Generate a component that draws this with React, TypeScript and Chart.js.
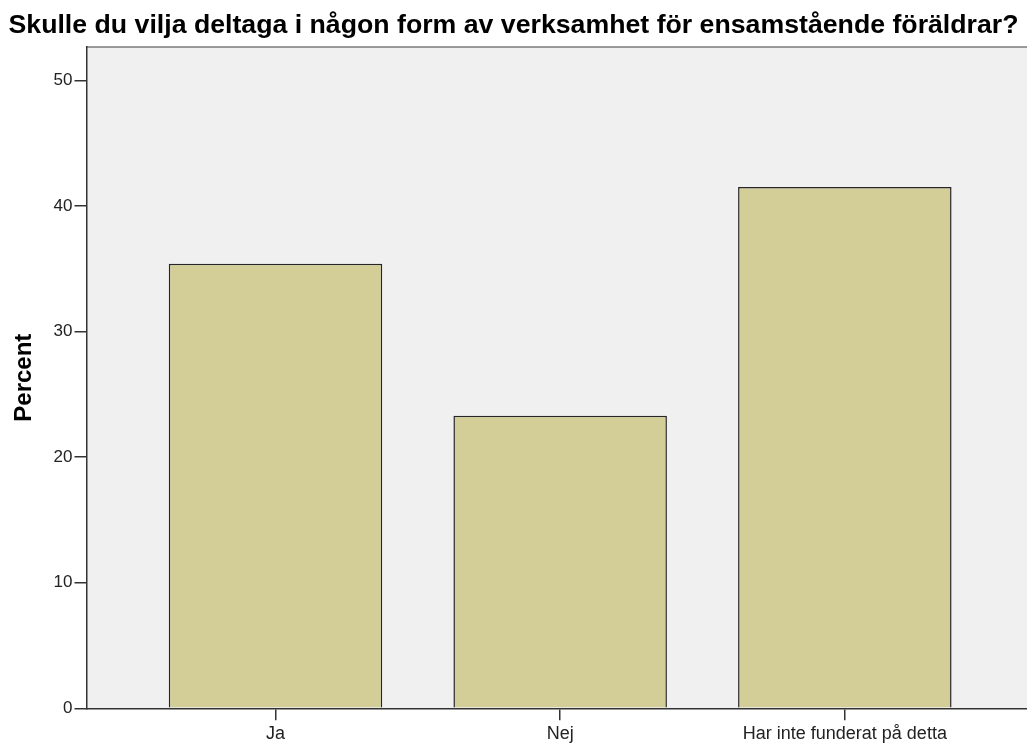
import React, { useEffect, useRef } from "react";
import { Chart, registerables } from "chart.js";

Chart.register(...registerables);

const titleText = "Skulle du vilja deltaga i någon form av verksamhet för ensamstående föräldrar?";
const categories = ["Ja", "Nej", "Har inte funderat på detta"];
const percentValues = [35.4, 23.3, 41.5];
const yTickValues = [0, 10, 20, 30, 40, 50];
const yAxisTitle = "Percent";

const FONT = "'Liberation Sans', Arial, Helvetica, sans-serif";

const plotBackground = {
  id: "plotBackground",
  beforeDraw(chart: any) {
    const { ctx, chartArea } = chart;
    ctx.save();
    ctx.fillStyle = "#f0f0f0";
    ctx.fillRect(chartArea.left, chartArea.top, chartArea.right - chartArea.left, chartArea.bottom - chartArea.top);
    ctx.strokeStyle = "#7a7a7a";
    ctx.lineWidth = 1.5;
    ctx.beginPath();
    ctx.moveTo(chartArea.left, chartArea.top);
    ctx.lineTo(chartArea.right, chartArea.top);
    ctx.stroke();
    ctx.restore();
  },
};

export default function App() {
  const ref = useRef<HTMLCanvasElement | null>(null);

  useEffect(() => {
    if (!ref.current) return;
    const chart = new Chart(ref.current, {
      type: "bar",
      data: {
        datasets: [
          {
            data: categories.map((c, i) => ({ x: i, y: percentValues[i] })),
            backgroundColor: "#d3ce98",
            borderColor: "#262626",
            borderWidth: 1.5,
            barPercentage: 0.75,
            categoryPercentage: 1,
          },
        ],
      },
      options: {
        animation: false,
        responsive: false,
        layout: { padding: { left: 0, right: 0, top: 0, bottom: 0 } },
        plugins: {
          legend: { display: false },
          tooltip: { enabled: false },
          title: {
            display: true,
            text: titleText,
            color: "#000",
            font: { family: FONT, size: 26.7, weight: "bold" },
            padding: { top: 10, bottom: 5 },
          },
        },
        scales: {
          x: {
            type: "linear",
            offset: false,
            min: -0.664,
            max: 2.64,
            afterBuildTicks: (scale: any) => {
              scale.ticks = categories.map((_, i) => ({ value: i }));
            },
            afterFit: (scale: any) => {
              scale.height = 34.7;
            },
            ticks: {
              callback: (v: any) => categories[Math.round(Number(v))] ?? "",
              color: "#222",
              font: { family: FONT, size: 18 },
              padding: 3,
              maxRotation: 0,
              autoSkip: false,
            },
            grid: { offset: false, drawOnChartArea: false, drawTicks: true, tickLength: 12, color: "#333", lineWidth: 1.5 },
            border: { display: true, color: "#333", width: 1.5 },
          },
          y: {
            min: 0,
            max: 52.65,
            afterBuildTicks: (scale: any) => {
              scale.ticks = yTickValues.map((v) => ({ value: v }));
            },
            afterFit: (scale: any) => {
              scale.width = 86.5;
            },
            ticks: {
              color: "#222",
              font: { family: FONT, size: 17 },
              padding: 2,
            },
            grid: { drawOnChartArea: false, drawTicks: true, tickLength: 12, color: "#333", lineWidth: 1.5 },
            border: { display: true, color: "#333", width: 1.5 },
            title: {
              display: true,
              text: yAxisTitle,
              color: "#000",
              font: { family: FONT, size: 24, weight: "bold" },
              padding: { top: 9.6, bottom: 0 },
            },
          },
        },
      },
      plugins: [plotBackground],
    });
    return () => chart.destroy();
  }, []);

  return (
    <div style={{ position: "absolute", left: 0, top: 0, width: 1027, height: 743, background: "#fff" }}>
      <canvas ref={ref} width={1027} height={743} style={{ display: "block", width: 1027, height: 743 }} />
    </div>
  );
}
